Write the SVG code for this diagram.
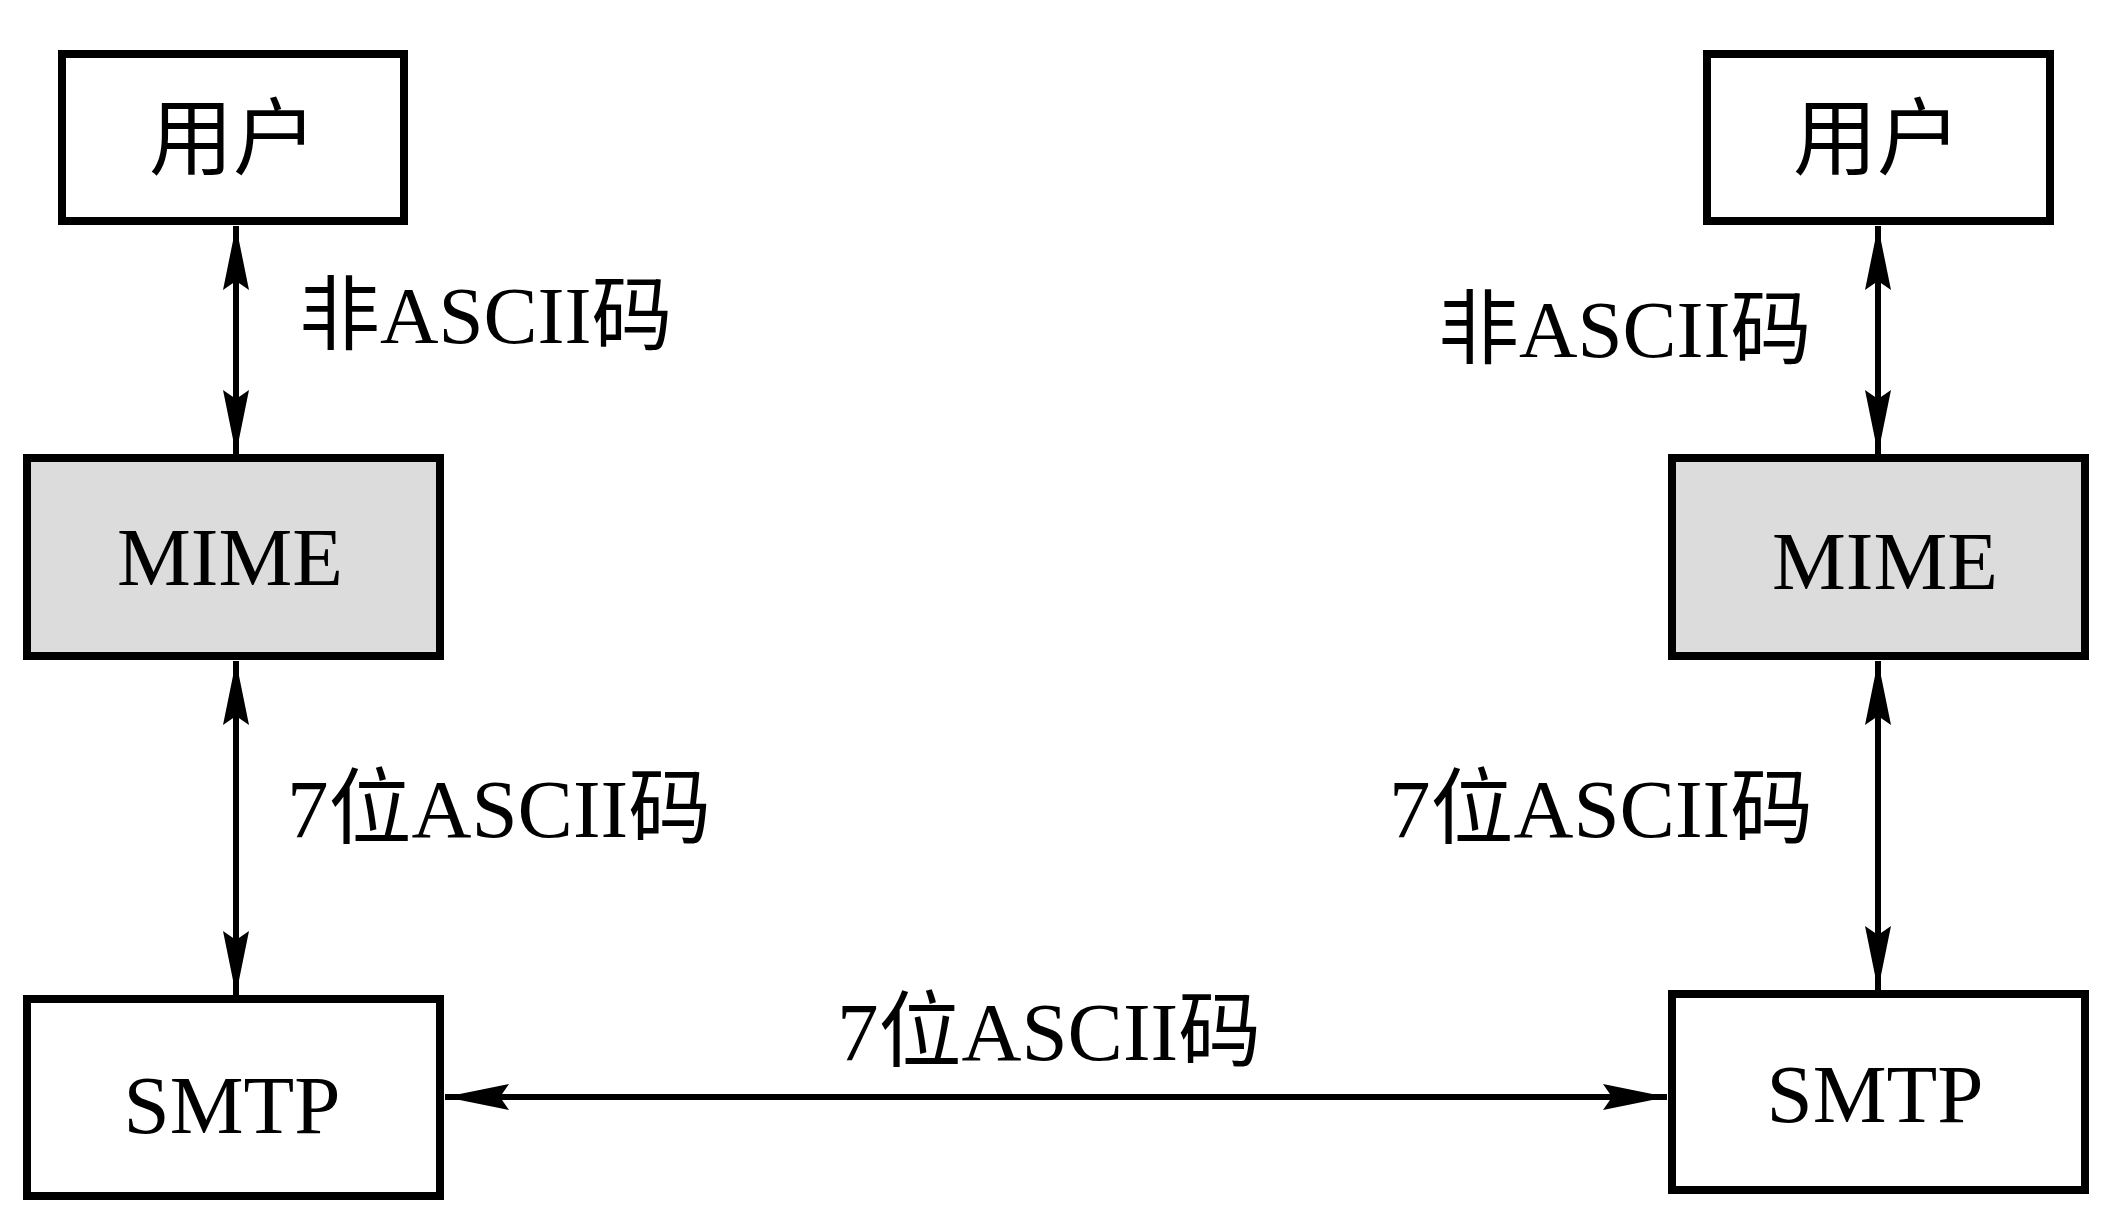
<svg xmlns="http://www.w3.org/2000/svg" width="2111" height="1219" viewBox="0 0 2111 1219">
<style>
.box{fill:#ffffff;stroke:#000;stroke-width:8}
.gray{fill:#dcdcdc}
.t{font-family:"Liberation Serif","Noto Sans CJK SC",serif;fill:#000}
.c{stroke:#000;stroke-width:6;fill:none;marker-start:url(#ah);marker-end:url(#ah)}
</style>
<defs>
<marker id="ah" markerUnits="userSpaceOnUse" markerWidth="66" markerHeight="28" refX="64" refY="13" orient="auto-start-reverse" viewBox="0 0 66 28">
<path d="M0,0 L64,13 L0,26 L9,13 Z" fill="#000"/>
</marker>
</defs>
<rect width="2111" height="1219" fill="#fff"/>
<g id="connectors">
<line class="c" x1="236" y1="226" x2="236" y2="454"/>
<line class="c" x1="236" y1="661" x2="236" y2="995"/>
<line class="c" x1="1878" y1="226" x2="1878" y2="454"/>
<line class="c" x1="1878" y1="661" x2="1878" y2="990"/>
<line class="c" x1="445" y1="1097" x2="1667" y2="1097"/>
</g>
<g id="user-left"><rect class="box" x="62" y="54" width="342" height="167"/><text class="t" x="233" y="168" font-size="84" text-anchor="middle">用户</text></g>
<g id="user-right"><rect class="box" x="1707" y="54" width="343" height="167"/><text class="t" x="1877" y="168" font-size="84" text-anchor="middle">用户</text></g>
<g id="mime-left"><rect class="box gray" x="27" y="458" width="413" height="198"/><text class="t" x="230" y="585" font-size="83" text-anchor="middle">MIME</text></g>
<g id="mime-right"><rect class="box gray" x="1672" y="458" width="413" height="198"/><text class="t" x="1885" y="589" font-size="83" text-anchor="middle">MIME</text></g>
<g id="smtp-left"><rect class="box" x="27" y="999" width="413" height="197"/><text class="t" x="232" y="1133" font-size="83" text-anchor="middle">SMTP</text></g>
<g id="smtp-right"><rect class="box" x="1672" y="994" width="413" height="196"/><text class="t" x="1875" y="1122" font-size="83" text-anchor="middle">SMTP</text></g>
<g id="labels">
<text class="t" x="299" y="343" font-size="81">非ASCII码</text>
<text class="t" x="1438" y="357" font-size="81">非ASCII码</text>
<text class="t" x="287" y="837" font-size="83">7位ASCII码</text>
<text class="t" x="1389" y="837" font-size="83">7位ASCII码</text>
<text class="t" x="837" y="1060" font-size="83">7位ASCII码</text>
</g>
</svg>
